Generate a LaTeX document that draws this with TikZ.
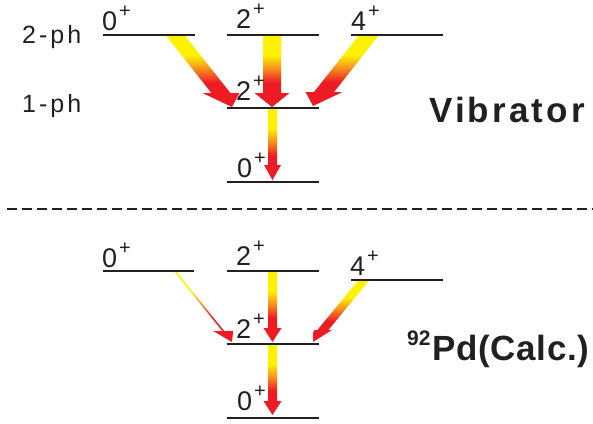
\documentclass[tikz,border=0pt]{standalone}
\usepackage{fontspec}
\setmainfont{Liberation Sans}
\usetikzlibrary{calc}
\definecolor{ink}{HTML}{231F20}
\definecolor{gyellow}{HTML}{FFF200}
\definecolor{gorange}{HTML}{F7941D}
\definecolor{gred}{HTML}{ED1C24}
\pgfdeclareverticalshading{gammafade}{100bp}{color(0bp)=(gred); color(42bp)=(gred); color(52bp)=(gorange); color(61bp)=(gyellow); color(100bp)=(gyellow)}
\newcommand\spin[1]{#1\kern2pt\raisebox{13pt}{\fontsize{20}{20}\selectfont +}}
% fat gamma arrow: top point, tip, shaft width, head width, head length
\newcommand\gammaray[5]{%
  \path (#1); \pgfgetlastxy{\rayxa}{\rayya}
  \path (#2); \pgfgetlastxy{\rayxb}{\rayyb}
  \pgfmathsetlengthmacro\rayxh{\rayxb+(\rayxa-\rayxb)*#5/(\rayya-\rayyb)}
  \shade[shading=gammafade]
    ({\rayxa-#3/2},\rayya) -- ({\rayxa+#3/2},\rayya)
    -- ({\rayxh+#3/2},{\rayyb+#5}) -- ({\rayxh+#4/2},{\rayyb+#5})
    -- (\rayxb,\rayyb)
    -- ({\rayxh-#4/2},{\rayyb+#5}) -- ({\rayxh-#3/2},{\rayyb+#5}) -- cycle;
}

\begin{document}
\begin{tikzpicture}[x=1pt, y=-1pt,
  every node/.style={inner sep=0pt, text=ink},
  level/.style={line width=2.5pt, draw=ink},
  lab/.style={font=\fontsize{27}{27}\selectfont, anchor=base west},
  side/.style={font=\fontsize{25}{25}\selectfont\addfontfeatures{LetterSpace=12}, anchor=base west},
  title/.style={font=\fontsize{35}{35}\selectfont\bfseries, anchor=base west},
  sep/.style={draw=ink, line width=1.5pt, dash pattern=on 10pt off 5pt},
]
  \useasboundingbox (0,0) rectangle (593,423);

  % vibrator
  \coordinate (a0) at (175,35);   \coordinate (a0t) at (232,107);
  \coordinate (a2) at (272,35);   \coordinate (a2t) at (272,107);
  \coordinate (a4) at (369,35);   \coordinate (a4t) at (313,106);
  \coordinate (a1) at (272.5,108); \coordinate (a1t) at (272.5,180);

  \gammaray{a0}{a0t}{19}{37}{14}
  \gammaray{a2}{a2t}{18}{35}{14}
  \gammaray{a4}{a4t}{20}{37}{14}
  \gammaray{a1}{a1t}{9}{17}{15}

  \draw[level] (103,35) -- (195,35);
  \draw[level] (227,35) -- (319,35);
  \draw[level] (351,35) -- (443,35);
  \draw[level] (227,108) -- (319,108);
  \draw[level] (227,182) -- (319,182);

  \node[lab] (v0a) at (102,30)  {\spin{0}};
  \node[lab] (v2a) at (236,28)  {\spin{2}};
  \node[lab] (v4a) at (351,30)  {\spin{4}};
  \node[lab] (v2b) at (236,100) {\spin{2}};
  \node[lab] (v0b) at (237,177) {\spin{0}};

  \node[side] (ph2) at (22,43)  {2-ph};
  \node[side] (ph1) at (22,112) {1-ph};
  \node[title] (vib) at (429,122) {\addfontfeatures{LetterSpace=9}Vibrator};

  \draw[sep] (7,209) -- (593,209);

  % 92Pd calculation
  \coordinate (b0) at (175,271);   \coordinate (b0t) at (232,342);
  \coordinate (b2) at (272.5,271); \coordinate (b2t) at (272.5,342);
  \coordinate (b4) at (364,280);   \coordinate (b4t) at (313,342);
  \coordinate (b1) at (272.5,344); \coordinate (b1t) at (272.5,415);

  \gammaray{b0}{b0t}{2}{20}{11}
  \gammaray{b2}{b2t}{9}{18}{14}
  \gammaray{b4}{b4t}{11}{18}{12}
  \gammaray{b1}{b1t}{9}{18}{14}

  \draw[level] (103,271) -- (194,271);
  \draw[level] (227,271) -- (319,271);
  \draw[level] (351,280) -- (443,280);
  \draw[level] (227,344) -- (319,344);
  \draw[level] (227,418) -- (319,418);

  \node[lab] (c0a) at (102,267) {\spin{0}};
  \node[lab] (c2a) at (236,265) {\spin{2}};
  \node[lab] (c4a) at (350,275) {\spin{4}};
  \node[lab] (c2b) at (236,338) {\spin{2}};
  \node[lab] (c0b) at (237,410) {\spin{0}};

  \node[title] (calc) at (407,360) {\raisebox{15pt}{\fontsize{21}{21}\selectfont 92}\kern1.5pt{\addfontfeatures{LetterSpace=2}Pd(Calc.)}};
\end{tikzpicture}
\end{document}
